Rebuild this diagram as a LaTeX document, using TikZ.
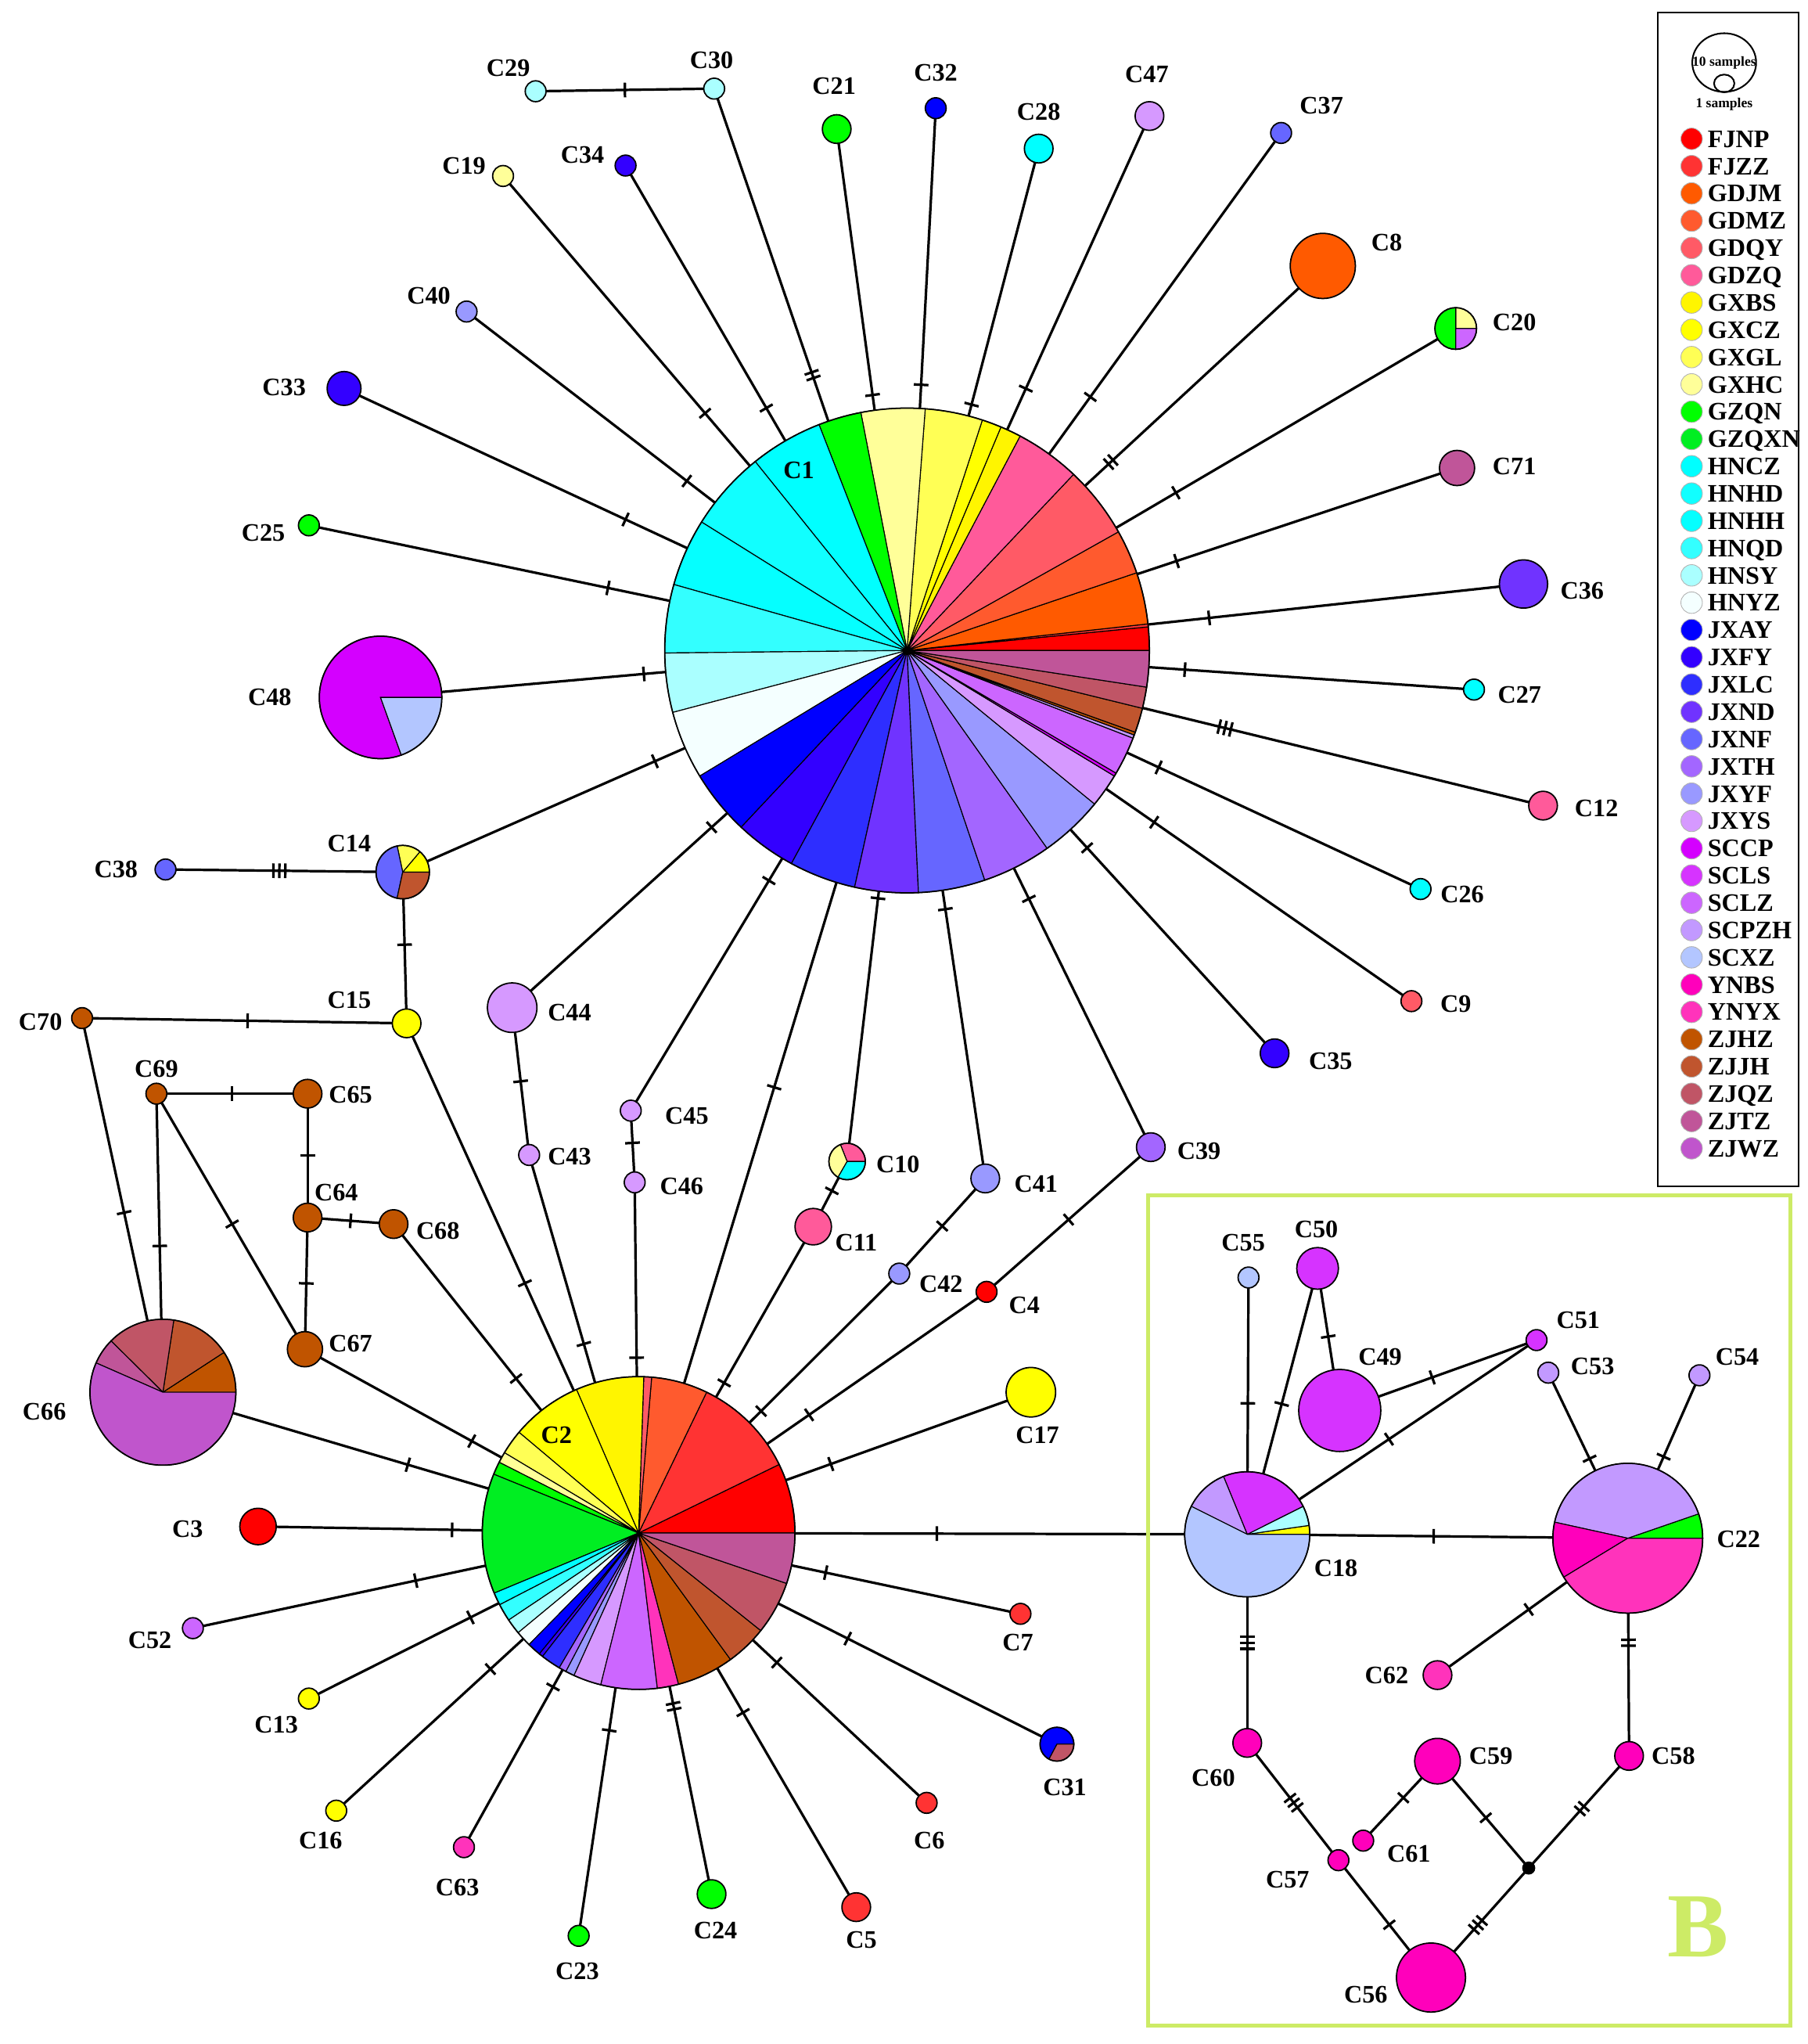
\documentclass[tikz,border=0pt]{standalone}
\usepackage{fontspec}
\setmainfont{Liberation Serif}
\usetikzlibrary{decorations.markings,backgrounds}

\definecolor{FJNP}{HTML}{FF0000}
\definecolor{FJZZ}{HTML}{FF3333}
\definecolor{GDJM}{HTML}{FF5A00}
\definecolor{GDMZ}{HTML}{FF5A2E}
\definecolor{GDQY}{HTML}{FF5A66}
\definecolor{GDZQ}{HTML}{FF5A9A}
\definecolor{GXBS}{HTML}{FFF500}
\definecolor{GXCZ}{HTML}{FFFF00}
\definecolor{GXGL}{HTML}{FFFF55}
\definecolor{GXHC}{HTML}{FFFF99}
\definecolor{GZQN}{HTML}{00FF00}
\definecolor{GZQXN}{HTML}{00EE22}
\definecolor{HNCZ}{HTML}{00FFFF}
\definecolor{HNHD}{HTML}{11FFFF}
\definecolor{HNHH}{HTML}{05FFFF}
\definecolor{HNQD}{HTML}{33FFFF}
\definecolor{HNSY}{HTML}{AAFFFF}
\definecolor{HNYZ}{HTML}{F4FFFF}
\definecolor{JXAY}{HTML}{0000FF}
\definecolor{JXFY}{HTML}{3300FF}
\definecolor{JXLC}{HTML}{2E2EFF}
\definecolor{JXND}{HTML}{7033FF}
\definecolor{JXNF}{HTML}{6666FF}
\definecolor{JXTH}{HTML}{A366FF}
\definecolor{JXYF}{HTML}{9999FF}
\definecolor{JXYS}{HTML}{D699FF}
\definecolor{SCCP}{HTML}{D400FF}
\definecolor{SCLS}{HTML}{D633FF}
\definecolor{SCLZ}{HTML}{CC66FF}
\definecolor{SCPZH}{HTML}{C299FF}
\definecolor{SCXZ}{HTML}{B3C6FF}
\definecolor{YNBS}{HTML}{FF00BB}
\definecolor{YNYX}{HTML}{FF33BB}
\definecolor{ZJHZ}{HTML}{C05400}
\definecolor{ZJJH}{HTML}{C0552E}
\definecolor{ZJQZ}{HTML}{C05566}
\definecolor{ZJTZ}{HTML}{C05599}
\definecolor{ZJWZ}{HTML}{C055CC}
\definecolor{Bgreen}{HTML}{CDEB66}

\tikzset{
	hap/.style={circle, draw, line width=0.6pt, inner sep=0pt, minimum size=#1*0.04cm},
	key/.style={circle, draw=gray!60, line width=0.3pt, inner sep=0pt, minimum size=0.33cm},
	lab/.style={font=\fontsize{11}{13}\selectfont\bfseries, inner sep=0pt},
	tiny/.style={font=\fontsize{6}{7}\selectfont\bfseries, inner sep=0pt},
	link/.style={line width=1.1pt},
	m1/.style={postaction={decorate, decoration={markings, mark=at position #1 with {\draw[line width=1.1pt] (0pt,-3.2pt) -- (0pt,3.2pt);}}}},
	m2/.style={postaction={decorate, decoration={markings, mark=at position #1 with {\draw[line width=1.1pt] (-1.3pt,-3.2pt) -- (-1.3pt,3.2pt) (1.3pt,-3.2pt) -- (1.3pt,3.2pt);}}}},
	m3/.style={postaction={decorate, decoration={markings, mark=at position #1 with {\draw[line width=1.1pt] (-2.6pt,-3.2pt) -- (-2.6pt,3.2pt) (0pt,-3.2pt) -- (0pt,3.2pt) (2.6pt,-3.2pt) -- (2.6pt,3.2pt);}}}}
}

\newcommand{\hpie}[5]{%
	\foreach \pa/\pb/\pc in {#5}
		\filldraw[fill=\pc, draw=black, line width=0.4pt] (#2,#3) -- ++(\pa:#4) arc[start angle=\pa, end angle=\pb, radius=#4] -- cycle;
	\draw (#2,#3) node[hap=#4] (#1) {};
}

\begin{document}
\begin{tikzpicture}[x=0.02cm, y=0.02cm]
	\useasboundingbox (0,0) rectangle (1387,-1568);

	\hpie{C1}{696}{-499}{186}{0/5.6/FJNP, 5.6/6.3/FJZZ, 6.3/18.7/GDJM, 18.7/29.3/GDMZ, 29.3/46.6/GDQY, 46.6/62.2/GDZQ, 62.2/67.2/GXBS, 67.2/71.9/GXCZ, 71.9/85.7/GXGL, 85.7/101/GXHC, 101/111.3/GZQN, 111.3/128.8/HNCZ, 128.8/148/HNHD, 148/164.2/HNHH, 164.2/180.6/HNQD, 180.6/194.8/HNSY, 194.8/211.2/HNYZ, 211.2/226.8/JXAY, 226.8/241.5/JXFY, 241.5/257.5/JXLC, 257.5/272.7/JXND, 272.7/288.7/JXNF, 288.7/305.3/JXTH, 305.3/320.7/JXYF, 320.7/328.8/JXYS, 328.8/329.6/SCCP, 329.6/338.8/SCLZ, 338.8/339.6/SCPZH, 339.6/340.3/ZJHZ, 340.3/346.2/ZJJH, 346.2/351.3/ZJQZ, 351.3/360/ZJTZ}
	\hpie{C2}{490}{-1176}{120}{0/26/FJNP, 26/64.2/FJZZ, 64.2/85.2/GDMZ, 85.2/88.1/GDQY, 88.1/113.4/GXBS, 113.4/139.9/GXCZ, 139.9/149.1/GXGL, 149.1/153.1/GXHC, 153.1/157.9/GZQN, 157.9/202.6/GZQXN, 202.6/207.3/HNCZ, 207.3/213.8/HNQD, 213.8/219.6/HNSY, 219.6/225.5/HNYZ, 225.5/230.6/JXAY, 230.6/232.1/JXFY, 232.1/239.5/JXLC, 239.5/242.3/JXTH, 242.3/245.6/JXYF, 245.6/256/JXYS, 256/276.9/SCLZ, 276.9/284.8/YNYX, 284.8/306/ZJHZ, 306/321.4/ZJJH, 321.4/341.2/ZJQZ, 341.2/360/ZJTZ}
	\hpie{C18}{957}{-1177}{48}{0/8.2/GXCZ, 8.2/26.6/HNSY, 26.6/112.3/SCLS, 112.3/153.4/SCPZH, 153.4/360/SCXZ}
	\hpie{C22}{1249}{-1180}{57.5}{0/19/GZQN, 19/167.6/SCPZH, 167.6/211.3/YNBS, 211.3/360/YNYX}
	\hpie{C66}{125}{-1068}{56}{0/33.1/ZJHZ, 33.1/81.4/ZJJH, 81.4/135.3/ZJQZ, 135.3/156.3/ZJTZ, 156.3/360/ZJWZ}
	\hpie{C48}{292}{-535}{47}{0/289.8/SCCP, 289.8/360/SCXZ}
	\hpie{C14}{309}{-669}{20.5}{0/49.8/GXCZ, 49.8/102/GXGL, 102/257.8/JXNF, 257.8/360/ZJJH}
	\hpie{C10}{650}{-891}{14}{0/111.6/GDZQ, 111.6/240/GXHC, 240/360/HNCZ}
	\hpie{C20}{1117}{-252}{16}{0/90/GXHC, 90/270/GZQN, 270/360/SCLZ}
	\hpie{C31}{811}{-1338}{13}{0/242/JXAY, 242/360/ZJQZ}

	\draw (411, -70) 	node[hap=8, fill=HNSY] 	(C29) {};
	\draw (548, -68) 	node[hap=8, fill=HNSY] 	(C30) {};
	\draw (642, -99) 	node[hap=11, fill=GZQN] 	(C21) {};
	\draw (718, -83) 	node[hap=8, fill=JXAY] 	(C32) {};
	\draw (797, -114) 	node[hap=11, fill=HNCZ] 	(C28) {};
	\draw (882, -89) 	node[hap=11, fill=JXYS] 	(C47) {};
	\draw (983, -102) 	node[hap=8, fill=JXNF] 	(C37) {};
	\draw (386, -135) 	node[hap=8, fill=GXHC] 	(C19) {};
	\draw (480, -127) 	node[hap=8, fill=JXFY] 	(C34) {};
	\draw (1015, -204) 	node[hap=25, fill=GDJM] 	(C8) {};
	\draw (358, -239) 	node[hap=8, fill=JXYF] 	(C40) {};
	\draw (264, -298) 	node[hap=13, fill=JXFY] 	(C33) {};
	\draw (1118, -359) 	node[hap=13.5, fill=ZJTZ] 	(C71) {};
	\draw (237, -403) 	node[hap=8, fill=GZQN] 	(C25) {};
	\draw (1169, -448) 	node[hap=18.5, fill=JXND] 	(C36) {};
	\draw (1131, -529) 	node[hap=8, fill=HNCZ] 	(C27) {};
	\draw (1184, -618) 	node[hap=11, fill=GDZQ] 	(C12) {};
	\draw (127, -667) 	node[hap=8, fill=JXNF] 	(C38) {};
	\draw (1090, -682) 	node[hap=8, fill=HNCZ] 	(C26) {};
	\draw (312, -785) 	node[hap=11, fill=GXCZ] 	(C15) {};
	\draw (63, -781) 	node[hap=8, fill=ZJHZ] 	(C70) {};
	\draw (393, -773) 	node[hap=19, fill=JXYS] 	(C44) {};
	\draw (1083, -768) 	node[hap=8, fill=GDQY] 	(C9) {};
	\draw (978, -808) 	node[hap=11, fill=JXFY] 	(C35) {};
	\draw (120, -839) 	node[hap=8, fill=ZJHZ] 	(C69) {};
	\draw (236, -839) 	node[hap=11, fill=ZJHZ] 	(C65) {};
	\draw (484, -852) 	node[hap=8, fill=JXYS] 	(C45) {};
	\draw (406, -886) 	node[hap=8, fill=JXYS] 	(C43) {};
	\draw (883, -880) 	node[hap=11, fill=JXTH] 	(C39) {};
	\draw (487, -907) 	node[hap=8, fill=JXYS] 	(C46) {};
	\draw (756, -904) 	node[hap=11, fill=JXYF] 	(C41) {};
	\draw (236, -934) 	node[hap=11, fill=ZJHZ] 	(C64) {};
	\draw (302, -939) 	node[hap=11, fill=ZJHZ] 	(C68) {};
	\draw (624, -941) 	node[hap=14, fill=GDZQ] 	(C11) {};
	\draw (690, -977) 	node[hap=8, fill=JXYF] 	(C42) {};
	\draw (757, -991) 	node[hap=8, fill=FJNP] 	(C4) {};
	\draw (234, -1035) 	node[hap=13.5, fill=ZJHZ] 	(C67) {};
	\draw (791, -1068) 	node[hap=19, fill=GXCZ] 	(C17) {};
	\draw (198, -1171) 	node[hap=14, fill=FJNP] 	(C3) {};
	\draw (148, -1249) 	node[hap=8, fill=SCLZ] 	(C52) {};
	\draw (783, -1238) 	node[hap=8, fill=FJZZ] 	(C7) {};
	\draw (237, -1303) 	node[hap=8, fill=GXCZ] 	(C13) {};
	\draw (258, -1389) 	node[hap=8, fill=GXCZ] 	(C16) {};
	\draw (711, -1383) 	node[hap=8, fill=FJZZ] 	(C6) {};
	\draw (356, -1417) 	node[hap=8, fill=YNYX] 	(C63) {};
	\draw (546, -1453) 	node[hap=11, fill=GZQN] 	(C24) {};
	\draw (657, -1463) 	node[hap=11, fill=FJZZ] 	(C5) {};
	\draw (444, -1485) 	node[hap=8, fill=GZQN] 	(C23) {};
	\draw (958, -980) 	node[hap=8, fill=SCXZ] 	(C55) {};
	\draw (1011, -973) 	node[hap=16, fill=SCLS] 	(C50) {};
	\draw (1028, -1082) 	node[hap=31.5, fill=SCLS] 	(C49) {};
	\draw (1179, -1028) 	node[hap=8, fill=SCLS] 	(C51) {};
	\draw (1188, -1053) 	node[hap=8, fill=SCPZH] 	(C53) {};
	\draw (1304, -1055) 	node[hap=8, fill=SCPZH] 	(C54) {};
	\draw (1103, -1285) 	node[hap=11, fill=YNYX] 	(C62) {};
	\draw (957, -1337) 	node[hap=11, fill=YNBS] 	(C60) {};
	\draw (1103, -1351) 	node[hap=17.5, fill=YNBS] 	(C59) {};
	\draw (1250, -1347) 	node[hap=11, fill=YNBS] 	(C58) {};
	\draw (1046, -1412) 	node[hap=8, fill=YNBS] 	(C61) {};
	\draw (1027, -1427) 	node[hap=8, fill=YNBS] 	(C57) {};
	\draw (1173, -1433) 	node[hap=4.5, fill=black] 	(mv) {};
	\draw (1098, -1517) 	node[hap=26.5, fill=YNBS] 	(C56) {};

	\begin{scope}[on background layer]
		\draw[link, m2=.49] (C1.center) -- (C30.center);
		\draw[link, m1=.49] (C1.center) -- (C21.center);
		\draw[link, m1=.49] (C1.center) -- (C32.center);
		\draw[link, m1=.49] (C1.center) -- (C28.center);
		\draw[link, m1=.49] (C1.center) -- (C47.center);
		\draw[link, m1=.49] (C1.center) -- (C37.center);
		\draw[link, m2=.49] (C1.center) -- (C8.center);
		\draw[link, m1=.49] (C1.center) -- (C20.center);
		\draw[link, m1=.49] (C1.center) -- (C71.center);
		\draw[link, m1=.49] (C1.center) -- (C36.center);
		\draw[link, m1=.49] (C1.center) -- (C27.center);
		\draw[link, m3=.50] (C1.center) -- (C12.center);
		\draw[link, m1=.49] (C1.center) -- (C26.center);
		\draw[link, m1=.49] (C1.center) -- (C9.center);
		\draw[link, m1=.49] (C1.center) -- (C35.center);
		\draw[link, m1=.50] (C1.center) -- (C39.center);
		\draw[link, m1=.49] (C1.center) -- (C41.center);
		\draw[link, m1=.485] (C1.center) -- (C10.center);
		\draw[link, m1=.495] (C1.center) -- (C2.center);
		\draw[link, m1=.50] (C1.center) -- (C45.center);
		\draw[link, m1=.495] (C1.center) -- (C44.center);
		\draw[link, m1=.50] (C1.center) -- (C14.center);
		\draw[link, m1=.50] (C1.center) -- (C48.center);
		\draw[link, m1=.50] (C1.center) -- (C25.center);
		\draw[link, m1=.50] (C1.center) -- (C33.center);
		\draw[link, m1=.50] (C1.center) -- (C40.center);
		\draw[link, m1=.50] (C1.center) -- (C19.center);
		\draw[link, m1=.50] (C1.center) -- (C34.center);
		\draw[link, m1=.50] (C29.center) -- (C30.center);
		\draw[link, m1=.45] (C10.center) -- (C11.center);
		\draw[link, m1=.45] (C45.center) -- (C46.center);
		\draw[link, m1=.50] (C46.center) -- (C2.center);
		\draw[link, m1=.50] (C44.center) -- (C43.center);
		\draw[link, m1=.50] (C43.center) -- (C2.center);
		\draw[link, m3=.48] (C38.center) -- (C14.center);
		\draw[link, m1=.48] (C14.center) -- (C15.center);
		\draw[link, m1=.49] (C15.center) -- (C70.center);
		\draw[link, m1=.51] (C15.center) -- (C2.center);
		\draw[link, m1=.52] (C70.center) -- (C66.center);
		\draw[link, m1=.51] (C69.center) -- (C66.center);
		\draw[link, m1=.50] (C69.center) -- (C65.center);
		\draw[link, m1=.51] (C69.center) -- (C67.center);
		\draw[link, m1=.50] (C65.center) -- (C64.center);
		\draw[link, m1=.50] (C64.center) -- (C68.center);
		\draw[link, m1=.50] (C64.center) -- (C67.center);
		\draw[link, m1=.50] (C67.center) -- (C2.center);
		\draw[link, m1=.50] (C68.center) -- (C2.center);
		\draw[link, m1=.515] (C66.center) -- (C2.center);
		\draw[link, m1=.51] (C3.center) -- (C2.center);
		\draw[link, m1=.50] (C52.center) -- (C2.center);
		\draw[link, m1=.49] (C13.center) -- (C2.center);
		\draw[link, m1=.51] (C16.center) -- (C2.center);
		\draw[link, m1=.51] (C63.center) -- (C2.center);
		\draw[link, m1=.51] (C23.center) -- (C2.center);
		\draw[link, m2=.52] (C24.center) -- (C2.center);
		\draw[link, m1=.52] (C5.center) -- (C2.center);
		\draw[link, m1=.52] (C6.center) -- (C2.center);
		\draw[link, m1=.50] (C31.center) -- (C2.center);
		\draw[link, m1=.51] (C7.center) -- (C2.center);
		\draw[link, m1=.49] (C2.center) -- (C18.center);
		\draw[link, m1=.49] (C2.center) -- (C17.center);
		\draw[link, m1=.51] (C4.center) -- (C2.center);
		\draw[link, m1=.50] (C4.center) -- (C39.center);
		\draw[link, m1=.47] (C2.center) -- (C42.center);
		\draw[link, m1=.50] (C42.center) -- (C41.center);
		\draw[link, m1=.49] (C2.center) -- (C11.center);
		\draw[link, m1=.49] (C55.center) -- (C18.center);
		\draw[link, m1=.51] (C50.center) -- (C18.center);
		\draw[link, m1=.48] (C50.center) -- (C49.center);
		\draw[link, m1=.47] (C49.center) -- (C51.center);
		\draw[link, m1=.49] (C18.center) -- (C51.center);
		\draw[link, m1=.49] (C18.center) -- (C22.center);
		\draw[link, m1=.52] (C53.center) -- (C22.center);
		\draw[link, m1=.50] (C54.center) -- (C22.center);
		\draw[link, m1=.48] (C62.center) -- (C22.center);
		\draw[link, m3=.52] (C18.center) -- (C60.center);
		\draw[link, m2=.48] (C22.center) -- (C58.center);
		\draw[link, m3=.51] (C60.center) -- (C57.center);
		\draw[link, m1=.55] (C57.center) -- (C56.center);
		\draw[link, m1=.54] (C61.center) -- (C59.center);
		\draw[link, m1=.53] (C59.center) -- (mv.center);
		\draw[link, m2=.53] (mv.center) -- (C58.center);
		\draw[link, m3=.52] (mv.center) -- (C56.center);
	\end{scope}

	\draw (613, -361) 	node[lab] 	(lC1) {C1};
	\draw (427, -1101) 	node[lab] 	(lC2) {C2};
	\draw (390, -52) 	node[lab] 	(lC29) {C29};
	\draw (546, -46) 	node[lab] 	(lC30) {C30};
	\draw (640, -66) 	node[lab] 	(lC21) {C21};
	\draw (718, -56) 	node[lab] 	(lC32) {C32};
	\draw (797, -86) 	node[lab] 	(lC28) {C28};
	\draw (880, -57) 	node[lab] 	(lC47) {C47};
	\draw (1014, -81) 	node[lab] 	(lC37) {C37};
	\draw (356, -127) 	node[lab] 	(lC19) {C19};
	\draw (447, -119) 	node[lab] 	(lC34) {C34};
	\draw (1064, -186) 	node[lab] 	(lC8) {C8};
	\draw (329, -227) 	node[lab] 	(lC40) {C40};
	\draw (1162, -247) 	node[lab] 	(lC20) {C20};
	\draw (218, -297) 	node[lab] 	(lC33) {C33};
	\draw (1162, -358) 	node[lab] 	(lC71) {C71};
	\draw (202, -409) 	node[lab] 	(lC25) {C25};
	\draw (1214, -453) 	node[lab] 	(lC36) {C36};
	\draw (207, -535) 	node[lab] 	(lC48) {C48};
	\draw (1166, -533) 	node[lab] 	(lC27) {C27};
	\draw (1225, -620) 	node[lab] 	(lC12) {C12};
	\draw (268, -647) 	node[lab] 	(lC14) {C14};
	\draw (89, -667) 	node[lab] 	(lC38) {C38};
	\draw (1122, -686) 	node[lab] 	(lC26) {C26};
	\draw (268, -767) 	node[lab] 	(lC15) {C15};
	\draw (31, -784) 	node[lab] 	(lC70) {C70};
	\draw (437, -777) 	node[lab] 	(lC44) {C44};
	\draw (1117, -770) 	node[lab] 	(lC9) {C9};
	\draw (1021, -814) 	node[lab] 	(lC35) {C35};
	\draw (120, -820) 	node[lab] 	(lC69) {C69};
	\draw (269, -840) 	node[lab] 	(lC65) {C65};
	\draw (527, -856) 	node[lab] 	(lC45) {C45};
	\draw (437, -887) 	node[lab] 	(lC43) {C43};
	\draw (689, -893) 	node[lab] 	(lC10) {C10};
	\draw (920, -883) 	node[lab] 	(lC39) {C39};
	\draw (523, -910) 	node[lab] 	(lC46) {C46};
	\draw (795, -908) 	node[lab] 	(lC41) {C41};
	\draw (258, -915) 	node[lab] 	(lC64) {C64};
	\draw (336, -944) 	node[lab] 	(lC68) {C68};
	\draw (657, -953) 	node[lab] 	(lC11) {C11};
	\draw (722, -985) 	node[lab] 	(lC42) {C42};
	\draw (786, -1001) 	node[lab] 	(lC4) {C4};
	\draw (269, -1031) 	node[lab] 	(lC67) {C67};
	\draw (34, -1083) 	node[lab] 	(lC66) {C66};
	\draw (796, -1101) 	node[lab] 	(lC17) {C17};
	\draw (144, -1173) 	node[lab] 	(lC3) {C3};
	\draw (115, -1258) 	node[lab] 	(lC52) {C52};
	\draw (781, -1260) 	node[lab] 	(lC7) {C7};
	\draw (212, -1323) 	node[lab] 	(lC13) {C13};
	\draw (817, -1371) 	node[lab] 	(lC31) {C31};
	\draw (246, -1412) 	node[lab] 	(lC16) {C16};
	\draw (713, -1412) 	node[lab] 	(lC6) {C6};
	\draw (351, -1448) 	node[lab] 	(lC63) {C63};
	\draw (549, -1481) 	node[lab] 	(lC24) {C24};
	\draw (661, -1488) 	node[lab] 	(lC5) {C5};
	\draw (443, -1512) 	node[lab] 	(lC23) {C23};
	\draw (954, -953) 	node[lab] 	(lC55) {C55};
	\draw (1010, -943) 	node[lab] 	(lC50) {C50};
	\draw (1059, -1041) 	node[lab] 	(lC49) {C49};
	\draw (1211, -1013) 	node[lab] 	(lC51) {C51};
	\draw (1222, -1048) 	node[lab] 	(lC53) {C53};
	\draw (1333, -1041) 	node[lab] 	(lC54) {C54};
	\draw (1025, -1203) 	node[lab] 	(lC18) {C18};
	\draw (1334, -1181) 	node[lab] 	(lC22) {C22};
	\draw (1064, -1285) 	node[lab] 	(lC62) {C62};
	\draw (931, -1364) 	node[lab] 	(lC60) {C60};
	\draw (1144, -1347) 	node[lab] 	(lC59) {C59};
	\draw (1284, -1347) 	node[lab] 	(lC58) {C58};
	\draw (1081, -1422) 	node[lab] 	(lC61) {C61};
	\draw (988, -1442) 	node[lab] 	(lC57) {C57};
	\draw (1048, -1530) 	node[lab] 	(lC56) {C56};

	\draw[Bgreen, line width=1.7pt] (881,-917) rectangle (1374,-1554);
	\draw (1303, -1478) 	node[font=\fontsize{40}{40}\selectfont\bfseries, text=Bgreen, inner sep=0pt] 	(Blab) {B};

	\draw[line width=0.9pt] (1272,-9.5) rectangle (1380,-910);
	\draw[line width=0.7pt] (1323,-48) ellipse [x radius=24.5, y radius=22.5];
	\draw[line width=0.7pt] (1323,-64) ellipse [x radius=7.8, y radius=6.8];
	\draw (1323, -48) 	node[tiny] 	(ten) {10 samples};
	\draw (1323, -80) 	node[tiny] 	(one) {1 samples};
	\foreach \g [count=\i from 0] in {FJNP,FJZZ,GDJM,GDMZ,GDQY,GDZQ,GXBS,GXCZ,GXGL,GXHC,GZQN,GZQXN,HNCZ,HNHD,HNHH,HNQD,HNSY,HNYZ,JXAY,JXFY,JXLC,JXND,JXNF,JXTH,JXYF,JXYS,SCCP,SCLS,SCLZ,SCPZH,SCXZ,YNBS,YNYX,ZJHZ,ZJJH,ZJQZ,ZJTZ,ZJWZ}{
		\draw (1298, {-106.5-20.93*\i}) 	node[key, fill=\g] 	(k\g) {};
		\draw (1310, {-113-20.93*\i}) 	node[lab, anchor=base west] 	(t\g) {\g};
	}
\end{tikzpicture}
\end{document}
